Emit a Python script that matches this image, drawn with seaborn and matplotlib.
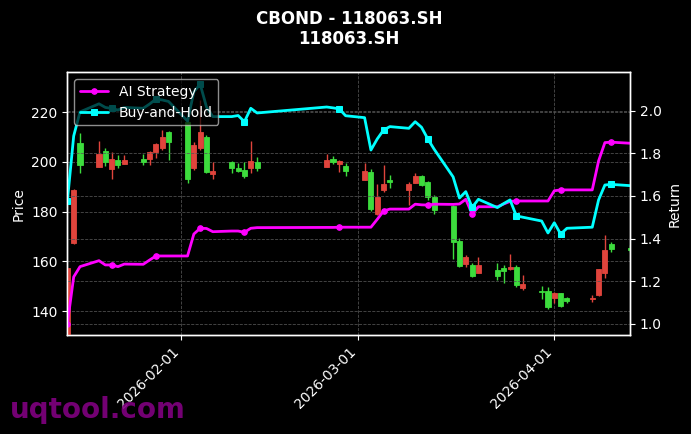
import matplotlib
matplotlib.use("Agg")
import matplotlib.pyplot as plt
import matplotlib.dates as mdates
import seaborn as sns
import pandas as pd
import numpy as np

dates = ["2026-01-14", "2026-01-15", "2026-01-16", "2026-01-19", "2026-01-20",
         "2026-01-21", "2026-01-22", "2026-01-23", "2026-01-26", "2026-01-27",
         "2026-01-28", "2026-01-29", "2026-01-30", "2026-02-02", "2026-02-03",
         "2026-02-04", "2026-02-05", "2026-02-06", "2026-02-09", "2026-02-10",
         "2026-02-11", "2026-02-12", "2026-02-13", "2026-02-24", "2026-02-25",
         "2026-02-26", "2026-02-27", "2026-03-02", "2026-03-03", "2026-03-04",
         "2026-03-05", "2026-03-06", "2026-03-09", "2026-03-10", "2026-03-11",
         "2026-03-12", "2026-03-13", "2026-03-16", "2026-03-17", "2026-03-18",
         "2026-03-19", "2026-03-20", "2026-03-23", "2026-03-24", "2026-03-25",
         "2026-03-26", "2026-03-27", "2026-03-30", "2026-03-31", "2026-04-01",
         "2026-04-02", "2026-04-03", "2026-04-07", "2026-04-08", "2026-04-09",
         "2026-04-10", "2026-04-13"]

opens = [125.0, 167.3, 207.8, 197.9, 204.5, 197.2, 200.8, 199.3, 201.2, 201.2,
         204.1, 205.5, 212.2, 216.0, 197.7, 205.7, 209.9, 195.2, 199.9, 197.7,
         196.8, 197.7, 199.9, 198.1, 201.2, 199.2, 198.5, 192.7, 195.8, 178.9,
         188.7, 192.7, 188.7, 191.7, 194.4, 191.8, 186.0, 182.4, 168.3, 158.9,
         158.5, 155.4, 156.5, 157.4, 156.8, 157.9, 149.1, 147.9, 148.0, 145.1,
         147.1, 145.1, 145.0, 146.4, 155.2, 167.0, 165.2]
highs = [157.5, 189.0, 211.8, 208.4, 205.6, 204.1, 202.7, 202.8, 203.2, 204.3,
         207.8, 212.9, 212.6, 221.0, 208.2, 225.0, 210.9, 199.9, 200.4, 199.5,
         199.9, 208.4, 202.1, 203.1, 202.4, 200.8, 199.7, 199.5, 197.2, 191.0,
         198.8, 194.8, 192.1, 195.4, 194.8, 192.5, 186.7, 182.7, 169.3, 162.6,
         159.4, 161.9, 159.2, 158.5, 163.0, 158.5, 154.5, 150.2, 149.5, 147.8,
         147.4, 145.8, 146.4, 157.0, 170.6, 167.9, 166.5]
lows = [124.0, 167.0, 195.7, 197.8, 198.4, 193.0, 197.6, 199.2, 198.8, 198.9,
        201.5, 204.8, 200.8, 191.4, 196.8, 205.0, 195.7, 193.0, 195.7, 196.0,
        193.4, 195.4, 196.4, 198.0, 199.1, 196.1, 194.4, 192.6, 180.3, 178.8,
        187.8, 189.6, 182.7, 191.4, 190.3, 184.7, 179.1, 160.8, 157.8, 157.8,
        153.8, 155.3, 152.5, 151.4, 156.5, 149.8, 148.5, 144.8, 141.0, 143.1,
        141.5, 143.1, 143.7, 146.0, 153.2, 163.9, 163.8]
closes = [157.2, 188.7, 198.8, 203.2, 200.1, 201.1, 198.8, 200.8, 200.0, 204.1,
          207.2, 210.2, 207.9, 193.0, 206.8, 212.2, 196.1, 196.5, 197.5, 196.4,
          194.5, 200.4, 197.7, 200.8, 200.1, 200.4, 196.4, 196.4, 181.1, 185.8,
          191.0, 191.8, 191.1, 194.4, 190.7, 185.8, 180.7, 167.9, 158.2, 161.9,
          154.1, 158.5, 154.1, 156.1, 157.9, 150.5, 150.9, 147.5, 141.7, 147.1,
          142.1, 144.1, 145.4, 156.8, 164.6, 164.8, 164.6]

ai_strategy = [1.0, 1.22, 1.268, 1.296, 1.276, 1.276, 1.268, 1.28, 1.279, 1.299,
               1.318, 1.318, 1.318, 1.318, 1.421, 1.448, 1.447, 1.432, 1.435, 1.435,
               1.429, 1.448, 1.451, 1.452, 1.452, 1.453, 1.453, 1.453, 1.453, 1.49,
               1.529, 1.538, 1.538, 1.561, 1.558, 1.557, 1.561, 1.56, 1.562, 1.584,
               1.515, 1.549, 1.549, 1.562, 1.574, 1.576, 1.576, 1.576, 1.576, 1.624,
               1.628, 1.628, 1.628, 1.764, 1.85, 1.852, 1.847]
buy_hold = [1.576, 1.881, 1.994, 2.032, 2.015, 2.01, 2.003, 2.015, 2.011, 2.031,
            2.054, 2.05, 2.043, 1.951, 2.088, 2.124, 2.017, 1.972, 1.972, 1.977,
            1.948, 2.011, 1.989, 2.017, 2.013, 2.008, 1.976, 1.967, 1.815, 1.867,
            1.909, 1.925, 1.917, 1.948, 1.922, 1.867, 1.819, 1.689, 1.59, 1.62,
            1.546, 1.584, 1.545, 1.564, 1.581, 1.506, 1.5, 1.482, 1.426, 1.474,
            1.421, 1.448, 1.453, 1.581, 1.651, 1.654, 1.648]

title_text = "CBOND - 118063.SH\n118063.SH"

sns.set_theme(context="notebook", style="dark", rc={
    "figure.facecolor": "black", "axes.facecolor": "black",
    "axes.edgecolor": "white", "axes.linewidth": 1.0,
    "text.color": "white", "axes.labelcolor": "white",
    "xtick.color": "white", "ytick.color": "white",
    "xtick.bottom": True, "ytick.left": True, "ytick.right": True,
    "xtick.major.size": 3.5, "ytick.major.size": 3.5,
    "xtick.major.width": 0.8, "ytick.major.width": 0.8,
    "axes.labelsize": 10, "xtick.labelsize": 10, "ytick.labelsize": 10,
    "legend.fontsize": 10, "axes.titlesize": 12,
})
plt.rcParams["font.family"] = ["DejaVu Sans"]

df = pd.DataFrame({"date": pd.to_datetime(dates), "open": opens, "high": highs,
                   "low": lows, "close": closes,
                   "AI Strategy": ai_strategy, "Buy-and-Hold": buy_hold})

fig = plt.figure(figsize=(6.91, 4.34), dpi=100)
ax1 = fig.add_axes([0.0975, 0.228, 0.8145, 0.6055])
ax2 = ax1.twinx()

up = df["close"] >= df["open"]
col = np.where(up, "#e0443c", "#3ddc3d")
body_bottom = np.minimum(df["open"], df["close"])
body_h = np.maximum(np.abs(df["close"] - df["open"]), 0.35)

ax1.vlines(df["date"], df["low"], df["high"], colors=col, linewidth=1.0, zorder=2)
ax1.bar(df["date"], body_h, bottom=body_bottom, width=0.8, color=col,
        edgecolor=col, linewidth=0.6, zorder=3)

ax1.set_ylim(130.35, 236.1)
ax1.set_ylabel("Price")
ax1.grid(True, linestyle="--", color="#555555", linewidth=0.6, alpha=0.9)

sns.lineplot(data=df, x="date", y="AI Strategy", ax=ax2, color="#ff00ff",
             linewidth=2, marker="o", markersize=4, markevery=5,
             markeredgecolor="#ff00ff", label="AI Strategy")
sns.lineplot(data=df, x="date", y="Buy-and-Hold", ax=ax2, color="#00ffff",
             linewidth=2, marker="s", markersize=4, markevery=5,
             markeredgecolor="#00ffff", label="Buy-and-Hold")
ax2.set_ylim(0.947, 2.18)
ax2.set_ylabel("Return")
ax2.grid(True, axis="y", linestyle="--", color="#555555", linewidth=0.6, alpha=0.9)
for sp in ax2.spines.values():
    sp.set_color("white")

ax1.set_xlim(df["date"].iloc[0], df["date"].iloc[-1])
ax1.xaxis.set_major_locator(mdates.MonthLocator())
ax1.xaxis.set_major_formatter(mdates.DateFormatter("%Y-%m-%d"))
ax2.set_xlabel("")
ax1.set_xlabel("")
for lbl in ax1.get_xticklabels():
    lbl.set_rotation(45)
    lbl.set_ha("right")

leg = ax2.legend(loc="upper left", facecolor="black", edgecolor="#cccccc",
                 framealpha=0.7, labelcolor="white")

ax1.set_title(title_text, fontsize=12, fontweight="bold", color="white", pad=20)

fig.text(0.014, 0.037, "uqtool.com", fontsize=20, fontweight="bold",
         color="#800080", alpha=0.9, va="baseline", ha="left")

fig.savefig("out.png", dpi=100, facecolor="black")
